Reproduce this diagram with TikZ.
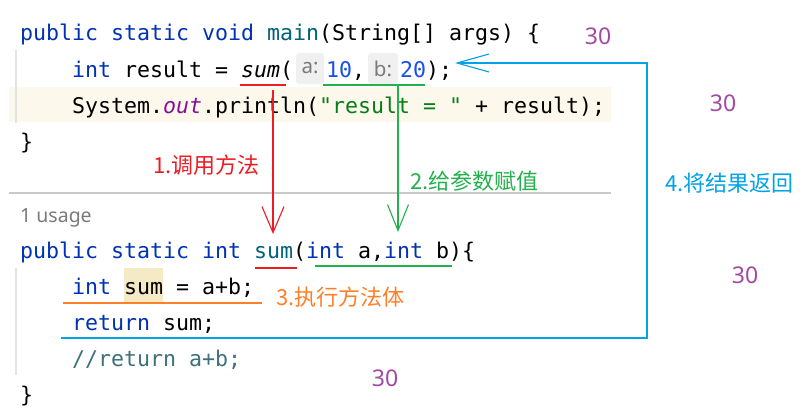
\documentclass[tikz,border=0pt]{standalone}
\usepackage{fontspec}
\usetikzlibrary{arrows.meta}
\newfontfamily\codefont{DejaVu Sans Mono}
\newfontfamily\cjkfont{Noto Sans CJK SC}
\newfontfamily\uifont{Noto Sans}
\definecolor{ckwc}{HTML}{0033B3}
\definecolor{cfnc}{HTML}{00627A}
\definecolor{cnumc}{HTML}{1750EB}
\definecolor{cstrc}{HTML}{067D17}
\definecolor{cfldc}{HTML}{871094}
\definecolor{ccmtc}{HTML}{3E7278}
\definecolor{pred}{HTML}{ED1C24}
\definecolor{pgreen}{HTML}{22B14C}
\definecolor{porange}{HTML}{FF7F27}
\definecolor{pblue}{HTML}{00A2E8}
\definecolor{ppurple}{HTML}{A349A4}
\definecolor{hlline}{HTML}{FCF9EC}
\definecolor{hlword}{HTML}{F5EAC6}
\definecolor{hintbg}{HTML}{F0F0F0}
\definecolor{hinttx}{HTML}{7A7A7A}
\definecolor{sepc}{HTML}{C9C9C9}
\definecolor{gutc}{HTML}{E3E3E3}
\newcommand\ckw[1]{\textcolor{ckwc}{#1}}
\newcommand\cfn[1]{\textcolor{cfnc}{#1}}
\newcommand\cnum[1]{\textcolor{cnumc}{#1}}
\newcommand\cstr[1]{\textcolor{cstrc}{#1}}
\newcommand\cfld[1]{\textcolor{cfldc}{#1}}
\newcommand\ccmt[1]{\textcolor{ccmtc}{#1}}
\begin{document}
\begin{tikzpicture}[x=1pt,y=-1pt,
  code/.style={anchor=base west,inner sep=0pt,outer sep=0pt,font=\codefont\fontsize{21.6}{26}\selectfont},
  hint/.style={anchor=center,inner sep=0pt,text=hinttx,font=\uifont\fontsize{20.5}{22}\selectfont},
  note/.style={anchor=west,inner sep=0pt,font=\cjkfont\fontsize{22}{24}\selectfont},
  val/.style={anchor=center,inner sep=0pt,text=ppurple,font=\uifont\fontsize{23}{26}\selectfont},
  annot/.style={line width=1.1pt},
  barb/.style={-{Straight Barb[length=26pt,width=22pt,line width=1.1pt]}}]
\useasboundingbox (0,0) rectangle (800,416);
\fill[white] (0,0) rectangle (800,416);
% backgrounds
\fill[hlline] (9,87) rectangle (611,122);
\draw[sepc,line width=1.3pt] (9,193) -- (611,193);
\draw[gutc,line width=1.3pt] (16,50) -- (16,123);
\draw[gutc,line width=1.3pt] (16,268) -- (16,375);
\fill[hlword] (124,268) rectangle (163,303);
\fill[hintbg,rounded corners=3pt] (296,53) rectangle (324,84);
\fill[hintbg,rounded corners=3pt] (368,53) rectangle (398,84);
% code
\node[code] (l1) at (20,40) {\ckw{public static void }\cfn{main}(String[] args) \{};
\node[code] (l2a) at (72,77) {\ckw{int} result = };
\node[code] (l2b) at (241,77) {\itshape sum};
\node[code] (l2c) at (280,77) {(};
\node[hint] (ha) at (310,68.5) {a:};
\node[code] (l2d) at (326,77) {\cnum{10}};
\node[code] (l2e) at (352,77) {,};
\node[hint] (hb) at (383,68.5) {b:};
\node[code] (l2f) at (400,77) {\cnum{20}};
\node[code] (l2g) at (426,77) {);};
\node[code] (l3) at (72,113) {System.\cfld{\itshape out}.println(\cstr{\char34\relax result = \char34\relax} + result);};
\node[code] (l4) at (20,149) {\}};
\node[anchor=base west,inner sep=0pt,text=hinttx,font=\uifont\fontsize{19.5}{22}\selectfont] (use) at (20,222) {1 usage};
\node[code] (l6) at (20,258) {\ckw{public static int }\cfn{sum}(\ckw{int} a,\ckw{int} b)\{};
\node[code] (l7) at (72,294) {\ckw{int} sum = a+b;};
\node[code] (l8) at (72,330) {\ckw{return} sum;};
\node[code] (l9) at (72,366) {\ccmt{//return a+b;}};
\node[code] (l10) at (20,402) {\}};
% underlines
\draw[pred,annot] (240,85) -- (286,85);
\draw[pred,annot] (255,268) -- (297,268);
\draw[pgreen,annot] (323,85) -- (425,85);
\draw[pgreen,annot] (315,266) -- (452,266);
\draw[porange,annot] (63,303) -- (262,303);
% arrows
\coordinate (rs) at (273,90);
\coordinate (rt) at (273,234);
\coordinate (gs) at (398,86);
\coordinate (gt) at (398,232);
\coordinate (bs) at (61,338);
\coordinate (bc) at (647,63);
\coordinate (bt) at (455,63);
\draw[pred,annot,barb] (rs) -- (rt);
\draw[pgreen,annot,-{Straight Barb[length=26pt,width=21pt,line width=1.1pt]}] (gs) -- (gt);
\draw[pblue,annot,-{Straight Barb[length=32pt,width=18pt,line width=1.1pt]}] (bs) -| (bc) -- (bt);
% labels
\node[note,text=pred] (n1) at (153,165) {1.调用方法};
\node[note,text=pgreen] (n2) at (410,181) {2.给参数赋值};
\node[note,text=porange] (n3) at (276,297.5) {3.执行方法体};
\node[note,text=pblue] (n4) at (665,183) {4.将结果返回};
% values
\node[val] (v1) at (598,36) {30};
\node[val] (v2) at (723,103) {30};
\node[val] (v3) at (745,275) {30};
\node[val] (v4) at (385,378) {30};
\end{tikzpicture}
\end{document}
